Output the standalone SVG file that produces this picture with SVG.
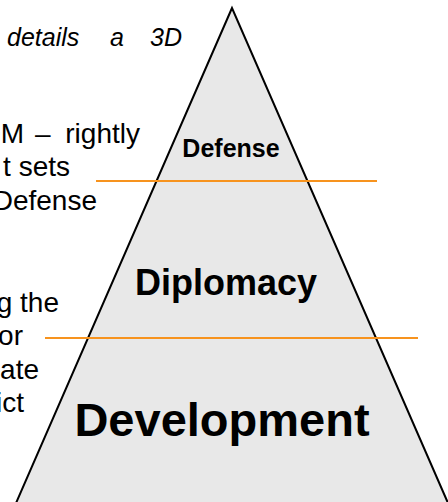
<svg xmlns="http://www.w3.org/2000/svg" width="448" height="502" viewBox="0 0 448 502">
  <style>
    .body { font-family: "Liberation Sans", Arial, sans-serif; font-size: 28px; fill: #000; }
    .ital { font-family: "Liberation Sans", Arial, sans-serif; font-size: 25px; font-style: italic; fill: #000; }
    .lbl { font-family: "Liberation Sans", Arial, sans-serif; font-weight: bold; fill: #000; text-anchor: middle; }
    .div { stroke: #f7931e; stroke-width: 2.2; fill: none; }
  </style>
  <rect width="448" height="502" fill="#fff"/>
  <g id="text-left">
    <text class="ital" y="46"><tspan x="7">details</tspan><tspan x="110">a</tspan><tspan x="150">3D</tspan></text>
    <text class="body" y="143"><tspan text-anchor="end" x="24">OM</tspan><tspan x="35">–</tspan><tspan text-anchor="end" x="140">rightly</tspan></text>
    <text class="body" text-anchor="end" x="70" y="176">t sets</text>
    <text class="body" text-anchor="end" x="97" y="210">Defense</text>
    <text class="body" text-anchor="end" x="59" y="312">g the</text>
    <text class="body" text-anchor="end" x="23" y="345">or</text>
    <text class="body" text-anchor="end" x="39" y="379">ate</text>
    <text class="body" text-anchor="end" x="24" y="412">ict</text>
  </g>
  <g id="pyramid">
    <polygon points="232,8 13,510 451,510" fill="#e8e8e8" stroke="#000" stroke-width="2"/>
  </g>
  <g id="dividers">
    <line class="div" x1="96" y1="181" x2="377" y2="181"/>
    <line class="div" x1="45" y1="338" x2="418" y2="338"/>
  </g>
  <g id="defense">
    <text class="lbl" x="231" y="157" font-size="25">Defense</text>
  </g>
  <g id="diplomacy">
    <text class="lbl" x="226" y="295" font-size="36">Diplomacy</text>
  </g>
  <g id="development">
    <text class="lbl" x="222" y="436" font-size="47">Development</text>
  </g>
</svg>
